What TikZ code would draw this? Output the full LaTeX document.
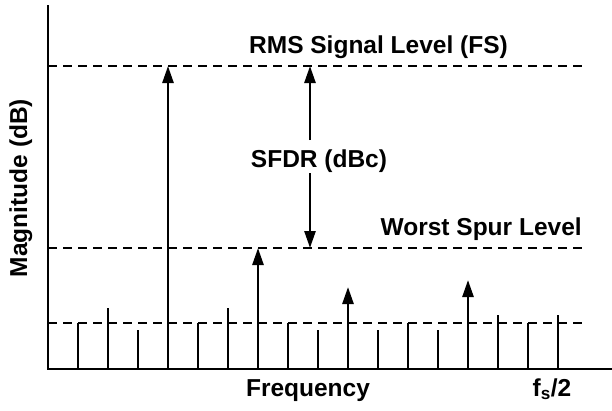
\documentclass[tikz,border=0pt]{standalone}
\usepackage{fontspec}
\setmainfont{Liberation Sans}
\usetikzlibrary{arrows.meta}

\begin{document}
\begin{tikzpicture}[x=1pt,y=-1pt,line width=2.6pt,
    lbl/.style={font=\bfseries\fontsize{24.5}{28}\selectfont,inner sep=0pt,anchor=base},
    lvl/.style={line width=2.2pt,dash pattern=on 9pt off 6pt},
    tip/.style={-{Triangle[length=17pt,width=11pt]}}]
    \useasboundingbox (0,0) rectangle (612,410);

    % Axes
    \coordinate (origin) at (48,369);
    \coordinate (ytop) at (48,5);
    \coordinate (xend) at (612,369);
    \draw (ytop) -- (origin) -- (xend);

    % Dashed levels (full scale, worst spur, noise floor)
    \foreach \y/\name in {66/fs, 248/spur, 323/floor} {
        \draw[lvl] (48,\y) coordinate (\name) -- (583,\y);
    }

    % Noise spurs
    \foreach \x/\h in {78/323, 108/308, 138/330, 198/323, 228/308, 288/323,
                       318/330, 378/330, 408/323, 438/330, 498/315, 528/323, 558/315} {
        \draw (\x,369) -- (\x,\h);
    }

    % Signal and harmonics
    \foreach \x/\h in {168/66, 258/248, 348/287, 468/280} {
        \draw[tip] (\x,369) -- (\x,\h);
    }

    % Labels
    \node[lbl] (rms) at (378.5,53) {RMS Signal Level (FS)};
    \node[lbl,anchor=base east] (worst) at (583,235) {Worst Spur Level};
    \node[lbl] (sfdr) at (319,167) {SFDR (dBc)};
    \node[lbl] (freq) at (308,396) {Frequency};
    \node[lbl] (fshalf) at (552,396) {f\textsubscript{s}/2};
    \node[lbl,rotate=90] (mag) at (27,188) {Magnitude (dB)};

    % SFDR span
    \coordinate (sfdrtop) at (310,66);
    \coordinate (sfdrbot) at (310,248);
    \draw[tip] (310,140) -- (sfdrtop);
    \draw[tip] (310,173) -- (sfdrbot);

\end{tikzpicture}
\end{document}
